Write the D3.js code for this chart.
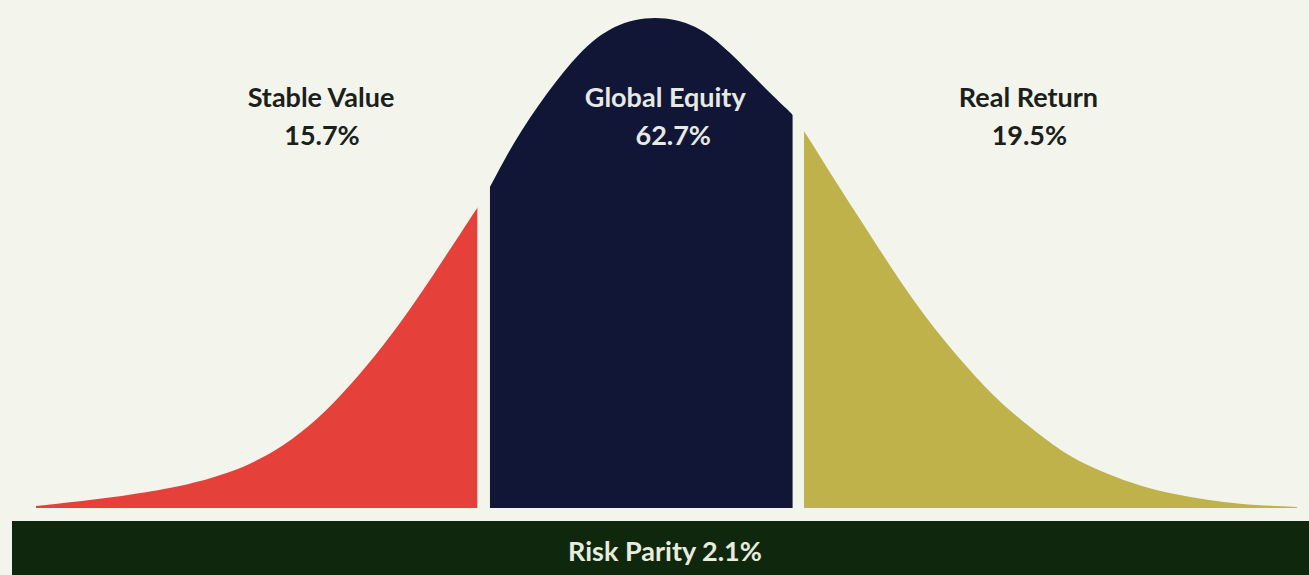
<!DOCTYPE html>
<html>
<head>
<meta charset="utf-8">
<script src="https://cdn.jsdelivr.net/npm/d3@7"></script>
<style>
  html, body { margin: 0; padding: 0; background: #f3f5ec; }
  svg { display: block; }
</style>
</head>
<body>
<script>
// allocation segments of the bell
var segNames = ["Stable Value", "Global Equity", "Real Return"];
var segPcts = [15.7, 62.7, 19.5];
var segFrom = [0, 36.0, 60.9];
var segTo = [35.0, 60.0, 100];

// bell outline (x along return axis, relative density)
var curveX = [0, 4.8, 10.1, 12.8, 15.4, 17.0, 19.6, 22.3, 24.9, 27.5, 30.2, 32.8, 34.7, 35.0,
              36.0, 37.8, 40.5, 43.1, 45.8, 49.1, 52.4, 55.0, 57.7, 59.8, 60.0,
              60.9, 63.2, 65.9, 68.5, 71.1, 73.8, 76.4, 80.4, 82.2, 84.9, 87.5, 90.2, 92.9, 95.5, 98.1, 100];
var curveY = [0.4, 1.7, 3.7, 5.2, 7.3, 8.9, 12.5, 17.8, 24.8, 32.7, 42.2, 52.3, 59.8, 60.9,
              64.9, 74.0, 84.2, 92.6, 98.2, 100, 98.2, 92.6, 85.4, 80.3, 79.8,
              76.6, 67.0, 56.4, 46.0, 36.7, 28.6, 21.3, 13.2, 10.1, 6.9, 4.5, 2.8, 1.6, 0.8, 0.4, 0.2];

// the base strip
var baseName = "Risk Parity";
var basePct = 2.1;

var W = 1309, H = 575;
var colors = ["#e5403a", "#111637", "#bfb24b"];
var labelColors = ["#1b201b", "#e6e9e4", "#1b201b"];
var labelAt = [22.6, 49.9, 78.7];

var svg = d3.select("body").append("svg")
	.attr("width", W)
	.attr("height", H);

svg.append("rect")
	.attr("width", W).attr("height", H)
	.attr("fill", "#f3f5ec");

var x = d3.scaleLinear().domain([0, 100]).range([36, 1297]);
var y = d3.scaleLinear().domain([0, 100]).range([508, 15]);

var pts = curveX.map(function(v, i) { return [v, curveY[i]]; });

var area = d3.area()
	.x(function(d) { return x(d[0]); })
	.y0(y(0))
	.y1(function(d) { return y(d[1]); })
	.curve(d3.curveBasis);

var defs = svg.append("defs");
segNames.forEach(function(n, i) {
	defs.append("clipPath").attr("id", "seg" + i)
		.append("rect")
		.attr("x", x(segFrom[i]))
		.attr("y", 0)
		.attr("width", x(segTo[i]) - x(segFrom[i]))
		.attr("height", y(0));
});

svg.selectAll("path.seg")
	.data(segNames)
	.enter()
	.append("path")
	.attr("class", "seg")
	.attr("clip-path", function(d, i) { return "url(#seg" + i + ")"; })
	.attr("d", area(pts))
	.attr("fill", function(d, i) { return colors[i]; });

// labels
var lab = svg.selectAll("g.lab")
	.data(segNames)
	.enter()
	.append("g")
	.attr("class", "lab")
	.attr("transform", function(d, i) { return "translate(" + x(labelAt[i]) + ",0)"; })
	.style("font-family", "Lato, 'Open Sans', sans-serif")
	.style("font-weight", "bold")
	.style("font-size", "27px")
	.attr("text-anchor", "middle")
	.attr("fill", function(d, i) { return labelColors[i]; });

lab.append("text").attr("y", 107).text(function(d) { return d; });
lab.append("text").attr("y", 145).attr("x", function(d, i) { return i == 1 ? 8 : 1; })
	.text(function(d, i) { return segPcts[i].toFixed(1) + "%"; });

// base bar
svg.append("rect")
	.attr("x", 12).attr("y", 521)
	.attr("width", W - 12).attr("height", H - 521)
	.attr("fill", "#0f280d");

svg.append("text")
	.attr("x", 665).attr("y", 561)
	.attr("text-anchor", "middle")
	.style("font-family", "Lato, 'Open Sans', sans-serif")
	.style("font-weight", "bold")
	.style("font-size", "27px")
	.attr("fill", "#e8ecdf")
	.text(baseName + " " + basePct.toFixed(1) + "%");
</script>
</body>
</html>
